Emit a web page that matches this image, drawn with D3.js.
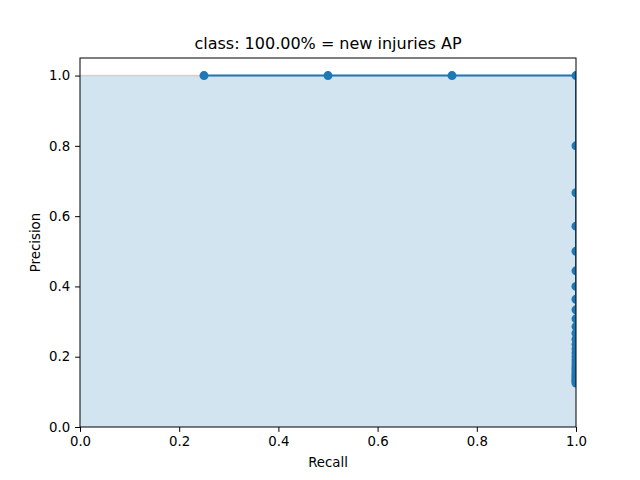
<!DOCTYPE html><html><head><script src="https://cdn.jsdelivr.net/npm/d3@7"></script>
<style>body{margin:0;background:#fff}text{font-family:"DejaVu Sans",sans-serif}</style></head><body><script>
const recall=[0.25,0.5,0.75,1,1,1,1,1,1,1,1,1,1,1,1,1,1,1,1,1,1,1,1,1,1,1,1,1,1,1,1,1];
const precision=[1,1,1,1,4/5,4/6,4/7,4/8,4/9,4/10,4/11,4/12,4/13,4/14,4/15,4/16,4/17,4/18,4/19,4/20,4/21,4/22,4/23,4/24,4/25,4/26,4/27,4/28,4/29,4/30,4/31,4/32];
const interpRecall=[0,0.25,1],interpPrec=[1,1,1];
const xTicks=[0,0.2,0.4,0.6,0.8,1.0],yTicks=[0,0.2,0.4,0.6,0.8,1.0];
const W=640,H=480,L=80,R=576,T=58,B=427;
const svg=d3.select("body").append("svg").attr("width",W).attr("height",H);
const x=d3.scaleLinear().domain([0,1]).range([L,R]);
const y=d3.scaleLinear().domain([0,1.05]).range([B,T]);
svg.append("clipPath").attr("id","c").append("rect").attr("x",L).attr("y",T).attr("width",R-L).attr("height",B-T);
const g=svg.append("g").attr("clip-path","url(#c)");
const pts=interpRecall.map((r,i)=>[r,interpPrec[i]]);
g.append("path").attr("d",d3.area().x(d=>x(d[0])).y0(y(0)).y1(d=>y(d[1]))(pts)).attr("fill","#1f77b4").attr("fill-opacity",0.2);
g.append("path").attr("d",d3.line().x(d=>x(d[0])).y(d=>y(d[1]))(pts)).attr("fill","none").attr("stroke","#d62728").attr("stroke-opacity",0.2).attr("stroke-width",1.5);
const data=recall.map((r,i)=>[r,precision[i]]);
g.append("path").attr("d",d3.line().x(d=>x(d[0])).y(d=>y(d[1]))(data)).attr("fill","none").attr("stroke","#1f77b4").attr("stroke-width",2);
g.selectAll("circle").data(data).join("circle").attr("cx",d=>x(d[0])).attr("cy",d=>y(d[1])).attr("r",4.5).attr("fill","#1f77b4");
const fmt=d3.format(".1f");
svg.append("g").attr("transform",`translate(0,${B})`).call(d3.axisBottom(x).tickValues(xTicks).tickFormat(fmt).tickSize(4.9).tickPadding(4.9)).call(a=>a.select(".domain").remove()).selectAll("text").attr("font-size",13.3).attr("fill","#000");
svg.append("g").attr("transform",`translate(${L},0)`).call(d3.axisLeft(y).tickValues(yTicks).tickFormat(fmt).tickSize(4.9).tickPadding(4.9)).call(a=>a.select(".domain").remove()).selectAll("text").attr("font-size",13.3).attr("fill","#000");
svg.append("rect").attr("x",L).attr("y",T).attr("width",R-L).attr("height",B-T).attr("fill","none").attr("stroke","#000").attr("stroke-width",1);
svg.append("text").attr("x",(L+R)/2).attr("y",467).attr("text-anchor","middle").attr("font-size",13.3).text("Recall");
svg.append("text").attr("transform",`translate(40,${(T+B)/2}) rotate(-90)`).attr("text-anchor","middle").attr("font-size",13.3).text("Precision");
svg.append("text").attr("x",(L+R)/2).attr("y",49).attr("text-anchor","middle").attr("font-size",16).text("class: 100.00% = new injuries AP");
</script></body></html>
